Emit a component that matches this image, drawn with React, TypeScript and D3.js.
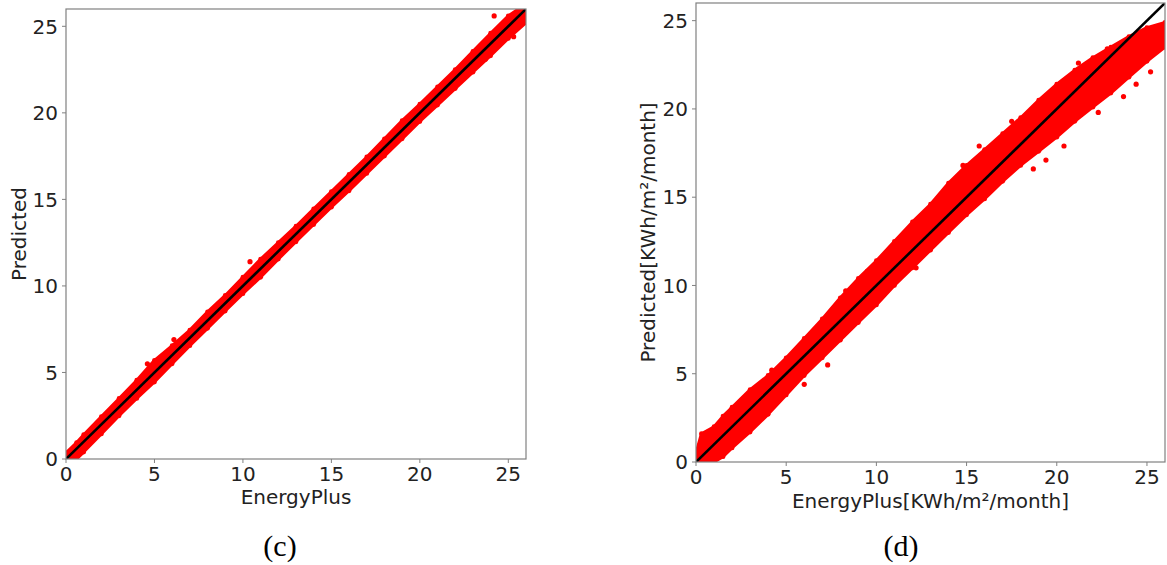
import React from 'react';
import * as d3 from 'd3';

// tick values shared by both panels
const ticks = [0, 5, 10, 15, 20, 25];

// panel (c): edges of the scatter cloud
const cX = [0, 0.6, 1, 2, 3, 4, 5, 6, 7, 8, 9, 10, 11, 12, 13, 14, 15, 16, 17, 18, 19, 20, 21, 22, 23, 24, 25, 26];
const cUpper = [0.35, 0.95, 1.4, 2.45, 3.5, 4.55, 5.7, 6.55, 7.45, 8.5, 9.45, 10.5, 11.55, 12.5, 13.45, 14.45, 15.45, 16.45, 17.45, 18.5, 19.55, 20.5, 21.5, 22.5, 23.55, 24.6, 25.6, 26.3];
const cLower = [0, 0, 0.4, 1.45, 2.5, 3.5, 4.45, 5.5, 6.55, 7.55, 8.55, 9.55, 10.5, 11.55, 12.55, 13.55, 14.55, 15.5, 16.5, 17.5, 18.5, 19.5, 20.45, 21.4, 22.35, 23.3, 24.3, 25.2];
const cOutliers = [[10.4, 11.4], [6.1, 6.9], [24.2, 25.6], [23.7, 23.1], [25.3, 24.4], [4.6, 5.5]];

// panel (d)
const dX = [0, 0.3, 1, 1.5, 2, 3, 4, 5, 6, 7, 8, 9, 10, 11, 12, 13, 14, 15, 16, 17, 18, 19, 20, 21, 22, 23, 24, 25, 26];
const dUpper = [0.5, 1.6, 2.0, 2.6, 3.1, 4.1, 4.9, 5.9, 7.0, 8.1, 9.3, 10.4, 11.4, 12.5, 13.6, 14.6, 15.8, 16.8, 17.7, 18.6, 19.5, 20.5, 21.4, 22.2, 22.9, 23.5, 24.1, 24.6, 24.9];
const dLower = [0, 0, 0, 0.3, 0.8, 1.7, 2.7, 3.8, 4.9, 5.9, 6.9, 7.9, 8.9, 10.0, 11.0, 12.0, 13.0, 14.0, 14.9, 15.9, 16.8, 17.6, 18.4, 19.3, 20.1, 20.9, 21.8, 22.7, 23.5];
const dOutliers = [[4.2, 5.2], [6.0, 4.4], [7.3, 5.5], [9.5, 10.8], [12.2, 11.0], [18.7, 16.6], [19.4, 17.1],
  [20.4, 17.9], [22.3, 19.8], [23.7, 20.7], [24.4, 21.4], [25.2, 22.1], [14.8, 16.8], [15.7, 17.9], [17.5, 19.3], [8.3, 9.7],
  [21.2, 22.6], [22.8, 23.4], [16.2, 15.3], [13.4, 14.9]];

const font = 'DejaVu Sans, sans-serif';
const textColor = '#222';

function Panel({ left, right, top, bottom, xs, up, lo, outliers, xLabel, yLabel, yLabelX, xLabelY, caption, captionX }) {
  const x = d3.scaleLinear().domain([0, 26]).range([left, right]);
  const y = d3.scaleLinear().domain([0, 26]).range([bottom, top]);

  const pts = xs.map((v, i) => ({ x: v, up: up[i], lo: lo[i] }));
  const area = d3.area()
    .x(d => x(d.x))
    .y0(d => y(d.lo))
    .y1(d => y(d.up));
  const line = d3.line().x(d => x(d[0])).y(d => y(d[1]));

  const clipId = 'clip' + left;

  return (
    <g>
      <defs>
        <clipPath id={clipId}>
          <rect x={left} y={top} width={right - left} height={bottom - top} />
        </clipPath>
      </defs>
      <g clipPath={`url(#${clipId})`}>
        <path d={area(pts)} fill="#ff0000" stroke="#ff0000" strokeWidth={3} strokeLinejoin="round" />
        {pts.map((d, i) => (
          <g key={i}>
            <circle cx={x(d.x)} cy={y(d.up)} r={2.4} fill="#ff0000" />
            <circle cx={x(d.x)} cy={y(d.lo)} r={2.4} fill="#ff0000" />
          </g>
        ))}
        {outliers.map((d, i) => (
          <circle key={'o' + i} cx={x(d[0])} cy={y(d[1])} r={2.6} fill="#ff0000" />
        ))}
        <path d={line([[0, 0], [26, 26]])} stroke="#000" strokeWidth={2.6} fill="none" />
      </g>
      <rect x={left} y={top} width={right - left} height={bottom - top} fill="none" stroke="#808080" strokeWidth={1.2} />
      {ticks.map(t => (
        <g key={'x' + t}>
          <line x1={x(t)} x2={x(t)} y1={bottom} y2={bottom + 4} stroke="#808080" />
          <text x={x(t)} y={bottom + 22} textAnchor="middle" fontFamily={font} fontSize={20} fill={textColor}>{t}</text>
        </g>
      ))}
      {ticks.map(t => (
        <g key={'y' + t}>
          <line x1={left - 4} x2={left} y1={y(t)} y2={y(t)} stroke="#808080" />
          <text x={left - 8} y={y(t)} dy="0.36em" textAnchor="end" fontFamily={font} fontSize={20} fill={textColor}>{t}</text>
        </g>
      ))}
      <text x={(left + right) / 2} y={xLabelY} textAnchor="middle" fontFamily={font} fontSize={20} fill={textColor}>{xLabel}</text>
      <text transform={`translate(${yLabelX},${(top + bottom) / 2}) rotate(-90)`} textAnchor="middle" fontFamily={font} fontSize={20} fill={textColor}>{yLabel}</text>
      <text x={captionX} y={556} textAnchor="middle" fontFamily="Liberation Serif, Times New Roman, serif" fontSize={30} fill="#000">{caption}</text>
    </g>
  );
}

export default function App() {
  return (
    <svg width={1167} height={565} style={{ position: 'absolute', left: 0, top: 0, background: '#fff' }}>
      <Panel left={66} right={526} top={9} bottom={459} xs={cX} up={cUpper} lo={cLower} outliers={cOutliers}
        xLabel="EnergyPlus" yLabel="Predicted" yLabelX={26} xLabelY={504} caption="(c)" captionX={280} />
      <Panel left={696} right={1165} top={3} bottom={462} xs={dX} up={dUpper} lo={dLower} outliers={dOutliers}
        xLabel="EnergyPlus[KWh/m²/month]" yLabel="Predicted[KWh/m²/month]" yLabelX={655} xLabelY={508} caption="(d)" captionX={901} />
    </svg>
  );
}
